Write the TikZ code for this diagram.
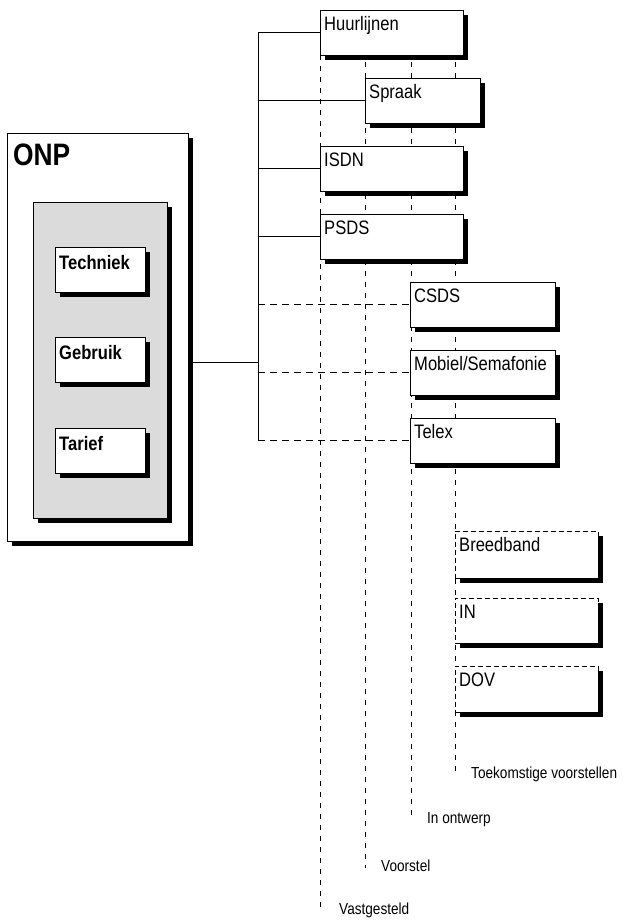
\documentclass[tikz,border=0pt]{standalone}
\usepackage{fontspec}
\newfontfamily\cond{Liberation Sans}[FakeStretch=0.85]
\usetikzlibrary{shadows}
\begin{document}
\begin{tikzpicture}[x=1pt,y=-1pt,
  shd/.style={drop shadow={shadow xshift=5pt,shadow yshift=-5pt,fill=black,opacity=1}},
  bx/.style={draw,fill=white,line width=0.6pt,shd,anchor=north west,inner sep=0pt,outer sep=0pt},
  netlbl/.style={label={[anchor=north west,inner xsep=4pt,inner ysep=7pt,text height=13.6pt,text depth=0pt,font=\cond\fontsize{19.5}{21}\selectfont]north west:#1}},
  boldlbl/.style={label={[anchor=north west,inner xsep=4pt,inner ysep=8pt,text height=14pt,text depth=0pt,font=\cond\bfseries\fontsize{19.5}{22}\selectfont]north west:#1}},
  netbox/.style={bx,minimum width=143pt,minimum height=45pt,netlbl=#1},
  futbox/.style={bx,dash pattern=on 5pt off 3pt,minimum width=143pt,minimum height=46pt,netlbl=#1},
  subbox/.style={bx,minimum width=90pt,minimum height=45pt,boldlbl=#1},
  vdash/.style={line width=0.9pt,dash pattern=on 5pt off 6pt},
  hdash/.style={line width=0.8pt,dash pattern=on 7pt off 5pt},
  conn/.style={line width=0.8pt},
  lvl/.style={anchor=west,inner sep=0pt,font=\cond\fontsize{16}{18}\selectfont}
]
\useasboundingbox (0,0) rectangle (623,922);

% ONP block
\node[bx,minimum width=181pt,minimum height=408pt,
  label={[anchor=north west,inner xsep=6pt,inner ysep=10pt,text height=22pt,text depth=0pt,font=\cond\bfseries\fontsize{31}{34}\selectfont]north west:ONP}] (onp) at (7,133) {};
\node[bx,fill=black!14,minimum width=134pt,minimum height=316pt] (inner) at (33,202) {};
\node[subbox=Techniek] (tech) at (55,247) {};
\node[subbox=Gebruik] (gebr) at (55,337) {};
\node[subbox=Tarief] (tar) at (55,428) {};

% vertical status lines
\coordinate (v1a) at (320,55);  \coordinate (v1b) at (320,908);
\coordinate (v2a) at (365,62);  \coordinate (v2b) at (365,868);
\coordinate (v3a) at (411,62);  \coordinate (v3b) at (411,820);
\coordinate (v4a) at (455,62);  \coordinate (v4b) at (455,773);
\draw[vdash] (v1a) -- (v1b);
\draw[vdash] (v2a) -- (v2b);
\draw[vdash] (v3a) -- (v3b);
\draw[vdash] (v4a) -- (v4b);
\node[lvl] (lv1) at (339,910) {Vastgesteld};
\node[lvl] (lv2) at (381,866) {Voorstel};
\node[lvl] (lv3) at (427,820) {In ontwerp};
\node[lvl] (lv4) at (471,774) {Toekomstige voorstellen};

% trunk
\coordinate (t0) at (258,362);
\coordinate (t1) at (258,32.5);
\coordinate (t2) at (258,100.5);
\coordinate (t3) at (258,168.5);
\coordinate (t4) at (258,236.5);
\coordinate (t5) at (258,304.5);
\coordinate (t6) at (258,372.5);
\coordinate (t7) at (258,440.5);
\draw[conn] (t1) -- (t7);
\draw[conn] (t0) -- (t0 -| onp.east);

% network boxes
\node[netbox=Huurlijnen] (hu) at (320,10) {};
\node[netbox=Spraak,minimum width=115pt] (sp) at (365,78) {};
\node[netbox=ISDN] (isdn) at (320,146) {};
\node[netbox=PSDS] (psds) at (320,214) {};
\node[netbox=CSDS,minimum width=145pt] (csds) at (410,282) {};
\node[netbox=Mobiel/Semafonie,minimum width=145pt] (mob) at (410,350) {};
\node[netbox=Telex,minimum width=145pt] (tlx) at (410,418) {};
\node[futbox=Breedband,minimum height=47pt] (bb) at (455,531) {};
\node[futbox=IN,minimum height=45pt] (in) at (455,598) {};
\node[futbox=DOV] (dov) at (455,666) {};

% connectors
\draw[conn] (t1) -- (hu.west);
\draw[conn] (t2) -- (sp.west);
\draw[conn] (t3) -- (isdn.west);
\draw[conn] (t4) -- (psds.west);
\draw[hdash] (t5) -- (csds.west);
\draw[hdash] (t6) -- (mob.west);
\draw[hdash] (t7) -- (tlx.west);
\end{tikzpicture}
\end{document}
